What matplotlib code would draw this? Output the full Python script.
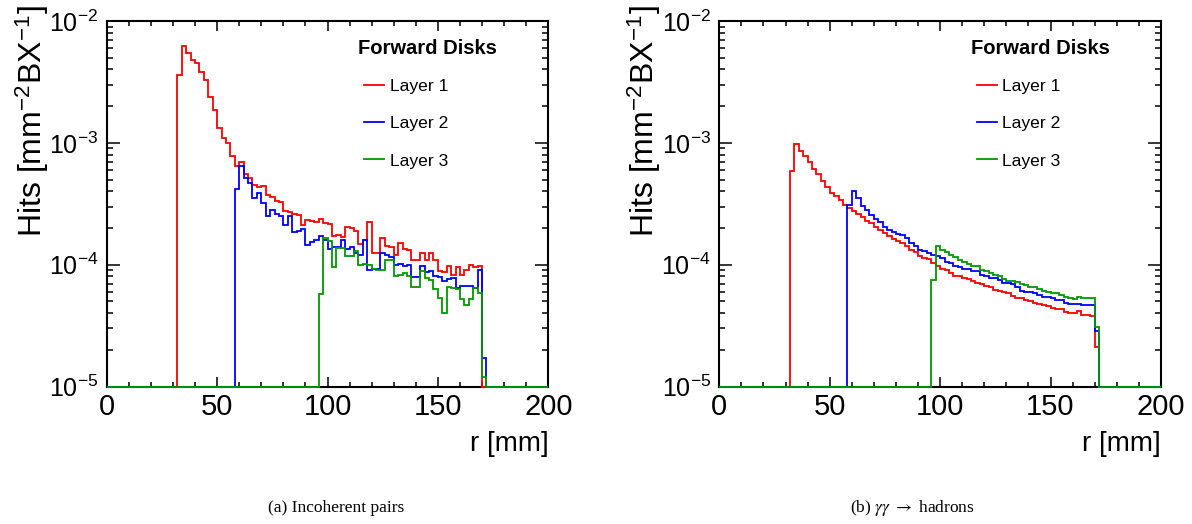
import matplotlib
matplotlib.use("Agg")
import matplotlib.pyplot as plt
import numpy as np
from matplotlib.ticker import LogLocator, MultipleLocator

plt.rcParams["font.family"] = ["Liberation Sans", "DejaVu Sans"]
plt.rcParams["mathtext.fontset"] = "stix"

# 2 mm bins from 0 to 200 mm
bin_edges = np.arange(0, 202, 2)
y_floor = 1e-5

# --- (a) incoherent pairs: values per bin, starting at the given r [mm]
pairs_l1_start = 32
pairs_l1 = [3.6e-3, 6.2e-3, 5.5e-3, 4.8e-3, 4.5e-3, 3.8e-3, 3.3e-3, 2.4e-3, 1.85e-3, 1.33e-3,
            1.09e-3, 1.0e-3, 7.8e-4, 6.5e-4, 7.0e-4, 5.6e-4, 5.1e-4, 4.5e-4, 4.3e-4, 4.4e-4,
            3.7e-4, 3.6e-4, 3.3e-4, 3.25e-4, 2.75e-4, 2.7e-4, 2.6e-4, 2.55e-4, 2.1e-4, 2.33e-4,
            2.3e-4, 2.25e-4, 2.37e-4, 2.2e-4, 2.15e-4, 1.72e-4, 1.75e-4, 1.7e-4, 2.05e-4, 2.0e-4,
            1.9e-4, 1.47e-4, 1.6e-4, 2.25e-4, 1.25e-4, 1.25e-4, 1.64e-4, 1.42e-4, 1.4e-4, 1.2e-4,
            1.5e-4, 1.35e-4, 1.33e-4, 1.1e-4, 1.1e-4, 1.25e-4, 1.1e-4, 1.25e-4, 1.1e-4, 8.8e-5,
            8.7e-5, 9.8e-5, 8.3e-5, 9.5e-5, 8.3e-5, 9.0e-5, 1.0e-4, 9.5e-5, 9.7e-5]
pairs_l2_start = 58
pairs_l2 = [4.2e-4, 6.4e-4, 5.1e-4, 4.7e-4, 3.5e-4, 3.9e-4, 3.2e-4, 2.5e-4, 2.8e-4, 2.6e-4,
            2.5e-4, 2.1e-4, 2.5e-4, 1.85e-4, 1.9e-4, 1.95e-4, 1.45e-4, 1.53e-4, 1.58e-4, 1.72e-4,
            1.6e-4, 1.34e-4, 1.4e-4, 1.4e-4, 1.58e-4, 1.34e-4, 1.4e-4, 1.24e-4, 1.2e-4, 1.58e-4,
            9.0e-5, 9.3e-5, 9.3e-5, 1.24e-4, 1.2e-4, 1.15e-4, 1.0e-4, 1.02e-4, 9.7e-5, 1.0e-4,
            7.9e-5, 7.9e-5, 9.7e-5, 8.75e-5, 8.9e-5, 8.0e-5, 7.9e-5, 7.4e-5, 7.6e-5, 7.7e-5,
            6.4e-5, 6.7e-5, 6.7e-5, 6.7e-5, 6.4e-5, 9.0e-5, 1.7e-5]
pairs_l3_start = 96
pairs_l3 = [5.7e-5, 1.66e-4, 1.55e-4, 9.6e-5, 1.37e-4, 1.38e-4, 1.17e-4, 1.18e-4, 1.3e-4, 1.0e-4,
            1.02e-4, 1.0e-4, 9.3e-5, 9.0e-5, 9.0e-5, 1.1e-4, 1.1e-4, 8.0e-5, 8.3e-5, 8.5e-5,
            8.0e-5, 6.5e-5, 6.5e-5, 8.8e-5, 7.7e-5, 7.5e-5, 6.3e-5, 5.3e-5, 4.0e-5, 6.5e-5,
            6.4e-5, 6.3e-5, 5.2e-5, 4.7e-5, 5.2e-5, 6.4e-5, 5.8e-5, 1.2e-5]

# --- (b) gamma gamma -> hadrons
hadrons_l1_start = 32
hadrons_l1 = [5.9e-4, 9.8e-4, 8.55e-4, 7.8e-4, 7.0e-4, 6.1e-4, 5.5e-4, 4.9e-4, 4.35e-4, 3.9e-4,
              3.65e-4, 3.4e-4, 3.1e-4, 2.9e-4, 2.75e-4, 2.6e-4, 2.45e-4, 2.3e-4, 2.18e-4, 2.05e-4,
              1.92e-4, 1.83e-4, 1.72e-4, 1.62e-4, 1.55e-4, 1.5e-4, 1.43e-4, 1.33e-4, 1.27e-4, 1.18e-4,
              1.14e-4, 1.11e-4, 1.04e-4, 9.7e-5, 9.3e-5, 9.0e-5, 8.6e-5, 8.1e-5, 8.0e-5, 7.8e-5,
              7.6e-5, 7.3e-5, 7.1e-5, 6.9e-5, 6.7e-5, 6.5e-5, 6.2e-5, 6.1e-5, 6.0e-5, 5.8e-5,
              5.5e-5, 5.35e-5, 5.3e-5, 5.1e-5, 5.0e-5, 4.85e-5, 4.8e-5, 4.7e-5, 4.6e-5, 4.45e-5,
              4.35e-5, 4.3e-5, 4.12e-5, 4.02e-5, 3.98e-5, 4.15e-5, 3.87e-5, 3.85e-5, 3.78e-5, 2.1e-5]
hadrons_l2_start = 58
hadrons_l2 = [3.08e-4, 4.0e-4, 3.55e-4, 3.05e-4, 2.8e-4, 2.55e-4, 2.35e-4, 2.22e-4, 2.05e-4, 1.93e-4,
              1.86e-4, 1.8e-4, 1.76e-4, 1.64e-4, 1.51e-4, 1.42e-4, 1.31e-4, 1.3e-4, 1.25e-4, 1.2e-4,
              1.17e-4, 1.14e-4, 1.05e-4, 1.03e-4, 9.8e-5, 9.6e-5, 9.3e-5, 9.3e-5, 8.9e-5, 8.8e-5,
              8.2e-5, 8.1e-5, 7.8e-5, 7.8e-5, 7.45e-5, 7.1e-5, 7.05e-5, 7.0e-5, 6.6e-5, 6.1e-5,
              6.0e-5, 6.0e-5, 5.9e-5, 5.6e-5, 5.45e-5, 5.4e-5, 5.3e-5, 5.1e-5, 5.1e-5, 4.85e-5,
              4.8e-5, 4.8e-5, 4.8e-5, 4.65e-5, 4.7e-5, 4.7e-5, 2.85e-5]
hadrons_l3_start = 96
hadrons_l3 = [7.5e-5, 1.42e-4, 1.32e-4, 1.27e-4, 1.2e-4, 1.15e-4, 1.1e-4, 1.06e-4, 1.02e-4, 9.7e-5,
              9.8e-5, 9.0e-5, 8.8e-5, 8.6e-5, 8.2e-5, 8.0e-5, 7.6e-5, 7.4e-5, 7.4e-5, 7.2e-5,
              6.9e-5, 6.8e-5, 6.6e-5, 6.5e-5, 6.3e-5, 6.1e-5, 5.95e-5, 5.9e-5, 5.8e-5, 5.6e-5,
              5.45e-5, 5.3e-5, 5.2e-5, 5.45e-5, 5.35e-5, 5.35e-5, 5.3e-5, 3.1e-5]

layer_labels = ["Layer 1", "Layer 2", "Layer 3"]
layer_colors = ["#ff0000", "#0000ff", "#009900"]
captions = ["(a) Incoherent pairs", r"(b) $\gamma\gamma\ \rightarrow\ $hadrons"]
caption_x = [336 / 1192, 912 / 1192]

panels = [
    [(pairs_l1_start, pairs_l1), (pairs_l2_start, pairs_l2), (pairs_l3_start, pairs_l3)],
    [(hadrons_l1_start, hadrons_l1), (hadrons_l2_start, hadrons_l2), (hadrons_l3_start, hadrons_l3)],
]


def full_hist(start, vals):
    """Empty bins sit on the axis floor, like ROOT draws them."""
    h = np.full(len(bin_edges) - 1, y_floor)
    i0 = np.searchsorted(bin_edges, start)
    h[i0:i0 + len(vals)] = vals
    return h


fig = plt.figure(figsize=(11.92, 5.24), dpi=100)
axes_lefts = [106.7 / 1192, 719.3 / 1192]

for p, (series, left) in enumerate(zip(panels, axes_lefts)):
    ax = fig.add_axes([left, 137.5 / 524, 441.6 / 1192, 365.5 / 524])
    for (start, vals), lab, col in zip(series, layer_labels, layer_colors):
        ax.stairs(full_hist(start, vals), bin_edges, baseline=None, color=col,
                  linewidth=1.3, label=lab, clip_on=False, zorder=3)

    ax.set_yscale("log")
    ax.set_xlim(0, 200)
    ax.set_ylim(1e-5, 1e-2)
    ax.xaxis.set_major_locator(MultipleLocator(50))
    ax.xaxis.set_minor_locator(MultipleLocator(10))
    ax.yaxis.set_major_locator(LogLocator(base=10))
    ax.yaxis.set_minor_locator(LogLocator(base=10, subs=np.arange(2, 10)))

    ax.tick_params(which="both", direction="in", top=True, right=True, width=1.1)
    ax.tick_params(axis="x", which="major", length=7.5, labelsize=21, pad=5)
    ax.tick_params(axis="x", which="minor", length=3.8)
    ax.tick_params(axis="y", which="major", length=9.5, labelsize=18, pad=6)
    ax.tick_params(axis="y", which="minor", length=4.5)
    for s in ax.spines.values():
        s.set_linewidth(1.5)

    ax.set_xlabel("r [mm]", fontsize=20, loc="right", labelpad=7)
    ax.set_ylabel(r"Hits [mm$^{\mathdefault{-2}}$BX$^{\mathdefault{-1}}$]",
                  fontsize=23, loc="top")
    ax.yaxis.set_label_coords(-0.127, 1.044)

    # legend header is placed on its own, slightly left of the entries
    ax.text(0.57, 0.925, "Forward Disks", transform=ax.transAxes, fontsize=14.5,
            fontweight="bold", ha="left", va="center")
    ax.legend(loc="upper left", bbox_to_anchor=(0.583, 0.841),
              frameon=False, fontsize=12.6, handlelength=1.15, handletextpad=0.3,
              labelspacing=1.25, borderpad=0, borderaxespad=0)

    fig.text(caption_x[p], 16 / 524, captions[p], ha="center", va="center",
             fontsize=12.5, family=["Liberation Serif", "DejaVu Serif"])

fig.savefig("out.png", dpi=100)
